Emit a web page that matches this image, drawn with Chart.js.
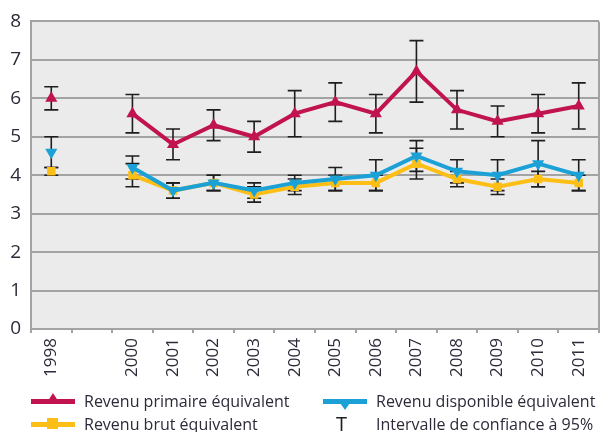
<!DOCTYPE html>
<html>
<head>
<meta charset="utf-8">
<script src="https://cdn.jsdelivr.net/npm/chart.js@4/dist/chart.umd.min.js"></script>
<style>
  body { margin: 0; background: #fff; }
  #wrap { position: relative; width: 606px; height: 432px; }
  .legend { position: absolute; font-family: "Open Sans", sans-serif; font-size: 16px; color: #2b2b3a; white-space: nowrap; }
  .sw { position: absolute; height: 5px; width: 44px; }
  .mk { position: absolute; width: 0; height: 0; }
</style>
</head>
<body>
<div id="wrap">
  <canvas id="revenu-chart" width="606" height="432"></canvas>

  <div class="sw" style="left:31px; top:399px; background:#c0134f;"></div>
  <div class="mk" style="left:46px; top:393px; border-left:7px solid transparent; border-right:7px solid transparent; border-bottom:11px solid #c0134f;"></div>
  <div class="legend" style="left:84px; top:390px;">Revenu primaire équivalent</div>

  <div class="sw" style="left:323px; top:399px; background:#1ba1d6;"></div>
  <div class="mk" style="left:338px; top:400px; border-left:7px solid transparent; border-right:7px solid transparent; border-top:10px solid #1ba1d6;"></div>
  <div class="legend" style="left:376px; top:390px;">Revenu disponible équivalent</div>

  <div class="sw" style="left:31px; top:422px; background:#fdbf15;"></div>
  <div class="mk" style="left:47px; top:418px; width:11px; height:11px; background:#fdbf15;"></div>
  <div class="legend" style="left:84px; top:413px;">Revenu brut équivalent</div>

  <div class="legend" style="left:336px; top:410px; font-size:20px; color:#1e1e1e;">T</div>
  <div class="legend" style="left:376px; top:413px;">Intervalle de confiance à 95%</div>
</div>

<script>
var annees = ['1998', '', '2000', '2001', '2002', '2003', '2004', '2005', '2006', '2007', '2008', '2009', '2010', '2011'];

var primaire     = [6.0, null, 5.6, 4.8, 5.3, 5.0, 5.6, 5.9, 5.6, 6.7, 5.7, 5.4, 5.6, 5.8];
var primaireBas  = [5.7, null, 5.1, 4.4, 4.9, 4.6, 5.0, 5.4, 5.1, 5.9, 5.2, 5.0, 5.1, 5.2];
var primaireHaut = [6.3, null, 6.1, 5.2, 5.7, 5.4, 6.2, 6.4, 6.1, 7.5, 6.2, 5.8, 6.1, 6.4];

var disponible     = [4.6, null, 4.2, 3.6, 3.8, 3.6, 3.8, 3.9, 4.0, 4.5, 4.1, 4.0, 4.3, 4.0];
var disponibleBas  = [4.2, null, 3.9, 3.4, 3.6, 3.4, 3.6, 3.6, 3.6, 4.1, 3.8, 3.6, 3.7, 3.6];
var disponibleHaut = [5.0, null, 4.5, 3.8, 4.0, 3.8, 4.0, 4.2, 4.4, 4.9, 4.4, 4.4, 4.9, 4.4];

var brut     = [4.1, null, 4.0, 3.6, 3.8, 3.5, 3.7, 3.8, 3.8, 4.3, 3.9, 3.7, 3.9, 3.8];
var brutBas  = [4.0, null, 3.7, 3.4, 3.6, 3.3, 3.5, 3.6, 3.6, 3.9, 3.7, 3.5, 3.7, 3.6];
var brutHaut = [4.2, null, 4.3, 3.8, 4.0, 3.7, 3.9, 4.0, 4.0, 4.7, 4.1, 3.9, 4.1, 4.0];

var yTicks = [0, 1, 2, 3, 4, 5, 6, 7, 8];

var intervalles = [
  [primaireBas, primaireHaut],
  [disponibleBas, disponibleHaut],
  [brutBas, brutHaut]
];

// grey plot area + right border
var fondPlugin = {
  id: 'fond',
  beforeDraw: function(chart){
    var a = chart.chartArea, ctx = chart.ctx;
    ctx.save();
    ctx.fillStyle = '#ebebeb';
    ctx.fillRect(a.left, a.top, a.right - a.left, a.bottom - a.top);
    ctx.strokeStyle = '#a3a3a3';
    ctx.lineWidth = 2;
    ctx.beginPath();
    ctx.moveTo(a.right, a.top);
    ctx.lineTo(a.right, a.bottom);
    ctx.stroke();
    ctx.restore();
  }
};

// 95% confidence whiskers
var errorBars = {
  id: 'errorBars',
  beforeDatasetsDraw: function(chart){
    var ctx = chart.ctx;
    var x = chart.scales.x, y = chart.scales.y;
    ctx.save();
    ctx.strokeStyle = '#1e1e1e';
    ctx.lineWidth = 1.6;
    intervalles.forEach(function(iv){
      for (var i = 0; i < annees.length; i++) {
        if (iv[0][i] === null) continue;
        var px = x.getPixelForValue(i);
        var lo = y.getPixelForValue(iv[0][i]);
        var hi = y.getPixelForValue(iv[1][i]);
        ctx.beginPath();
        ctx.moveTo(px, lo); ctx.lineTo(px, hi);
        ctx.moveTo(px - 7, lo); ctx.lineTo(px + 7, lo);
        ctx.moveTo(px - 7, hi); ctx.lineTo(px + 7, hi);
        ctx.stroke();
      }
    });
    ctx.restore();
  }
};

function serie(label, data, color, style, rotation, radius){
  return {
    label: label,
    data: data,
    borderColor: color,
    backgroundColor: color,
    borderWidth: 4,
    pointStyle: style,
    rotation: rotation,
    pointRadius: radius,
    pointHoverRadius: radius,
    pointBorderWidth: 0,
    spanGaps: false,
    tension: 0
  };
}

var ctx = document.getElementById('revenu-chart');
var chart = new Chart(ctx, {
  type: 'line',
  data: {
    labels: annees,
    datasets: [
      serie('Revenu primaire équivalent', primaire, '#c0134f', 'triangle', 0, 7),
      serie('Revenu disponible équivalent', disponible, '#1ba1d6', 'triangle', 180, 7),
      serie('Revenu brut équivalent', brut, '#fdbf15', 'rect', 0, 6)
    ]
  },
  options: {
    responsive: false,
    animation: false,
    layout: { padding: { top: 21, right: 3, left: 0, bottom: 0 } },
    plugins: { legend: { display: false }, tooltip: { enabled: false } },
    scales: {
      x: {
        offset: true,
        grid: {
          offset: true,
          drawOnChartArea: false,
          drawTicks: true,
          tickLength: 4,
          color: '#a3a3a3',
          lineWidth: 2
        },
        border: { color: '#a3a3a3', width: 2 },
        ticks: {
          autoSkip: false,
          minRotation: 90,
          maxRotation: 90,
          padding: 5,
          color: '#2b2b3a',
          font: { family: 'Open Sans', size: 17 }
        },
        afterFit: function(scale){ scale.height = 103; }
      },
      y: {
        min: 0,
        max: 8,
        afterBuildTicks: function(scale){
          scale.ticks = yTicks.map(function(v){ return { value: v }; });
        },
        grid: { color: '#a3a3a3', lineWidth: 2, drawTicks: false },
        border: { color: '#a3a3a3', width: 2 },
        ticks: {
          padding: 10,
          color: '#2b2b3a',
          font: { family: 'Open Sans', size: 19 }
        },
        afterFit: function(scale){ scale.width = 31; }
      }
    }
  },
  plugins: [fondPlugin, errorBars]
});
</script>
</body>
</html>
